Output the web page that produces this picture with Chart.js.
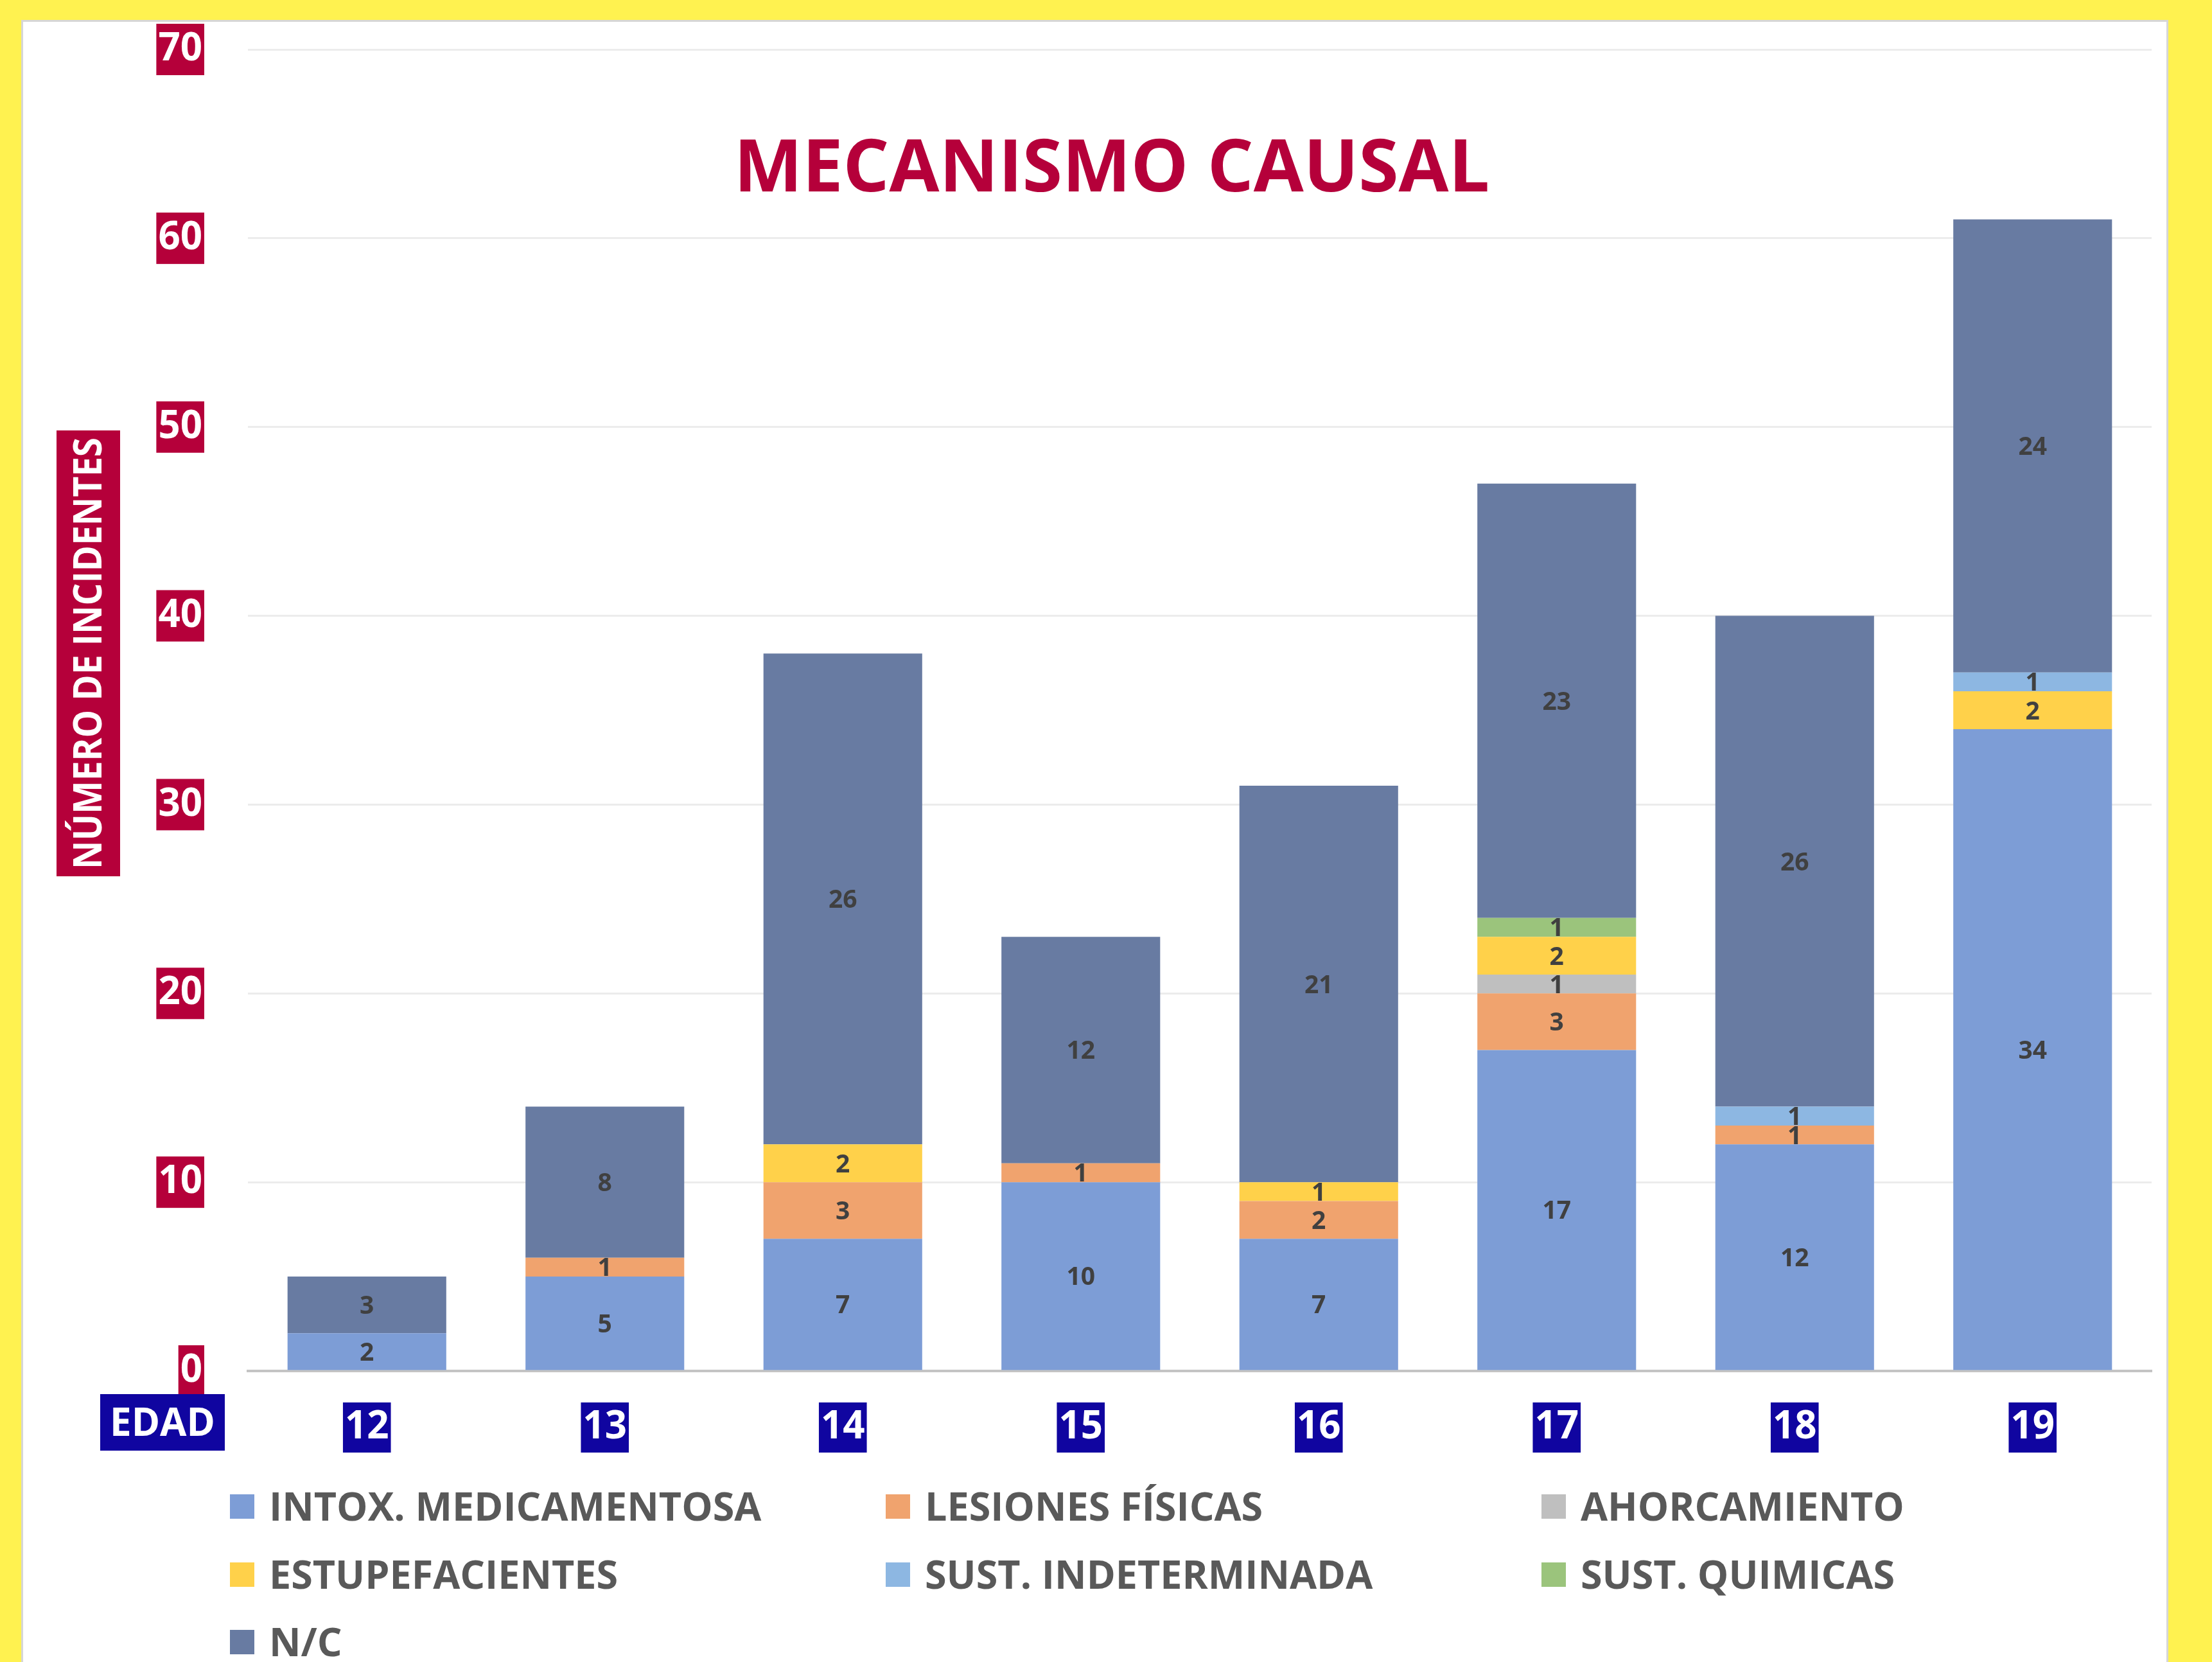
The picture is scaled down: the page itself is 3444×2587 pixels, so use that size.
<!DOCTYPE html>
<html>
<head>
<meta charset="utf-8">
<script src="https://cdn.jsdelivr.net/npm/chart.js@4.4.0/dist/chart.umd.min.js"></script>
<style>
  html, body { margin: 0; padding: 0; overflow: hidden; background: #FFF250; }
  #panel {
    position: absolute; left: 33px; top: 31px;
    width: 3337px; height: 2600px;
    background: #fff; border: 3px solid #D6D6D6;
  }
  #mecanismo { display: block; }
</style>
</head>
<body>
<div id="panel">
  <canvas id="mecanismo" width="3337" height="2553"></canvas>
</div>
<script>
// categorias (edad) y series
const edades = ["12", "13", "14", "15", "16", "17", "18", "19"];
const intox = [2, 5, 7, 10, 7, 17, 12, 34];
const lesiones = [0, 1, 3, 1, 2, 3, 1, 0];
const ahorcamiento = [0, 0, 0, 0, 0, 1, 0, 0];
const estupefacientes = [0, 0, 2, 0, 1, 2, 0, 2];
const sustIndet = [0, 0, 0, 0, 0, 0, 1, 1];
const sustQuim = [0, 0, 0, 0, 0, 1, 0, 0];
const noConsta = [3, 8, 26, 12, 21, 23, 26, 24];
const yMax = 70;
const yStep = 10;

const FONT = "'Open Sans', 'DejaVu Sans', sans-serif";
const CRIMSON = "#B5003A";
const NAVY = "#1005A0";

function serie(label, data, color) {
  return {
    label: label,
    data: data,
    backgroundColor: color,
    borderWidth: 0,
    barPercentage: 0.667,
    categoryPercentage: 1.0
  };
}

// numbers inside each segment
const valueLabels = {
  id: "valueLabels",
  afterDatasetsDraw(chart) {
    let ctx = chart.ctx;
    ctx.save();
    ctx.font = "bold 39px " + FONT;
    ctx.fillStyle = "#404040";
    ctx.textAlign = "center";
    ctx.textBaseline = "alphabetic";
    chart.data.datasets.forEach((ds, i) => {
      let meta = chart.getDatasetMeta(i);
      meta.data.forEach((bar, j) => {
        let v = ds.data[j];
        if (!v) return;
        let cy = (bar.y + bar.base) / 2;
        ctx.fillText(String(v), bar.x, cy + 14);
      });
    });
    ctx.restore();
  }
};

// title, axis title, EDAD box and legend
const extras = {
  id: "extras",
  afterDraw(chart) {
    let ctx = chart.ctx;
    let xs = chart.scales.x;
    ctx.save();

    // title
    ctx.font = "bold 113px " + FONT;
    ctx.fillStyle = CRIMSON;
    ctx.textAlign = "center";
    ctx.textBaseline = "alphabetic";
    ctx.fillText("MECANISMO CAUSAL", 1695, 264);

    // y axis title
    let tx = 101, ty = 983;
    ctx.fillStyle = CRIMSON;
    ctx.fillRect(52, 636, 99, 694);
    ctx.save();
    ctx.translate(tx, ty);
    ctx.rotate(-Math.PI / 2);
    ctx.font = "bold 60px " + FONT;
    let w = ctx.measureText("NÚMERO DE INCIDENTES").width;
    let k = Math.min(1, 672 / w);
    ctx.scale(k, 1);
    ctx.fillStyle = "#fff";
    ctx.textAlign = "center";
    ctx.fillText("NÚMERO DE INCIDENTES", 0, 21);
    ctx.restore();

    // EDAD box
    let ey = xs.top + 44 + 36;
    ctx.fillStyle = NAVY;
    ctx.fillRect(120, ey - 44, 194, 88);
    ctx.font = "bold 60px " + FONT;
    ctx.fillStyle = "#fff";
    ctx.textAlign = "center";
    ctx.fillText("EDAD", 217, ey + 21);

    // legend, 3 columns
    let cols = [322, 1343, 2364];
    let rows = [2311, 2417, 2522];
    ctx.textAlign = "left";
    chart.data.datasets.forEach((ds, i) => {
      let x = cols[i % 3];
      let y = rows[Math.floor(i / 3)];
      ctx.fillStyle = ds.backgroundColor;
      ctx.fillRect(x, y - 19, 38, 38);
      ctx.fillStyle = "#595959";
      ctx.font = "bold 61px " + FONT;
      ctx.fillText(ds.label, x + 61, y + 22);
    });

    ctx.restore();
  }
};

let ctx = document.getElementById("mecanismo");
let chart = new Chart(ctx, {
  type: "bar",
  data: {
    labels: edades,
    datasets: [
      serie("INTOX. MEDICAMENTOSA", intox, "#7D9DD6"),
      serie("LESIONES FÍSICAS", lesiones, "#F0A36E"),
      serie("AHORCAMIENTO", ahorcamiento, "#BFBFBF"),
      serie("ESTUPEFACIENTES", estupefacientes, "#FFD14A"),
      serie("SUST. INDETERMINADA", sustIndet, "#8DB7E2"),
      serie("SUST. QUIMICAS", sustQuim, "#9BC47C"),
      serie("N/C", noConsta, "#687BA2")
    ]
  },
  options: {
    responsive: false,
    animation: false,
    layout: { padding: { left: 0, right: 23, top: 43, bottom: 323 } },
    plugins: {
      legend: { display: false },
      title: { display: false },
      tooltip: { enabled: false }
    },
    scales: {
      x: {
        stacked: true,
        grid: { display: false },
        border: { display: true, color: "#C4C4C4", width: 4 },
        ticks: {
          color: "#fff",
          font: { family: FONT, size: 60, weight: "bold" },
          padding: 44,
          showLabelBackdrop: true,
          backdropColor: NAVY,
          backdropPadding: { top: 3, bottom: 3, left: 3, right: 3 }
        },
        afterFit: function(scale) {
          scale.height = 130;
          scale.paddingLeft = 0;
          scale.paddingRight = 0;
        }
      },
      y: {
        stacked: true,
        min: 0,
        max: yMax,
        grid: { color: "#ECECEC", lineWidth: 3, drawTicks: false },
        border: { display: false },
        ticks: {
          stepSize: yStep,
          color: "#fff",
          font: { family: FONT, size: 60, weight: "bold" },
          padding: 71,
          showLabelBackdrop: true,
          backdropColor: CRIMSON,
          backdropPadding: { top: 4, bottom: 4, left: 3, right: 3 }
        },
        afterFit: function(scale) {
          scale.width = 350;
          scale.paddingTop = 0;
          scale.paddingBottom = 0;
        }
      }
    }
  },
  plugins: [valueLabels, extras]
});
</script>
</body>
</html>
